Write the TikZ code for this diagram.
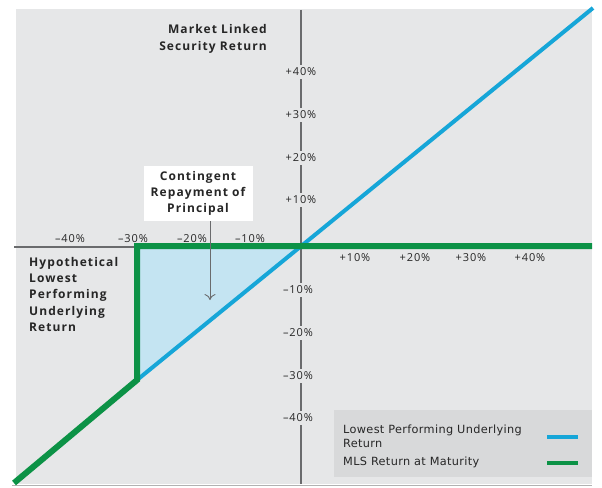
\documentclass[tikz,border=0pt]{standalone}
\usepackage{fontspec}
\setmainfont{Open Sans}
\newfontfamily\ttlfont{Open Sans}[LetterSpace=9]
\newfontfamily\tickfont{Open Sans}[LetterSpace=8]
\newfontfamily\legfont{DejaVu Sans}[LetterSpace=3]
\usetikzlibrary{arrows.meta}
\definecolor{bgc}{HTML}{E6E7E8}
\definecolor{axisc}{HTML}{6A6B6D}
\definecolor{bluec}{RGB}{22,166,216}
\definecolor{greenc}{RGB}{12,146,70}
\definecolor{shadec}{HTML}{C4E4F2}
\definecolor{legc}{HTML}{D8D9DA}
\definecolor{txtc}{HTML}{262626}
\begin{document}
\begin{tikzpicture}[x=1pt,y=-1pt,
  ticklbl/.style={font=\tickfont\fontsize{11}{13}\selectfont, text=txtc, inner sep=1pt},
  vtick/.style={ticklbl, fill=bgc, inner xsep=1pt, inner ysep=3pt},
  ttl/.style={font=\ttlfont\bfseries\fontsize{12}{16.3}\selectfont, text=txtc, inner sep=0pt},
  legtxt/.style={font=\legfont\fontsize{11.3}{14}\selectfont, text=txtc, inner sep=0pt, anchor=west, align=left},
  axisline/.style={axisc, line width=2pt},
  blueline/.style={bluec, line width=4pt},
  greenline/.style={greenc, line width=6pt},
]
\useasboundingbox (0,0) rectangle (602,487);
\fill[bgc] (16,9) rectangle (592,484);
\draw[black!30, line width=1pt] (12,485.5) -- (592,485.5);
% axes
\coordinate (vtop) at (301,10);
\coordinate (vbot) at (301,484);
\coordinate (hl) at (14,247);
\coordinate (hr) at (592,247);
\draw[axisline] (vtop) -- (vbot);
\draw[axisline] (hl) -- (hr);
% shaded region
\coordinate (o) at (301,246);
\coordinate (c1) at (137,246);
\coordinate (c2) at (137,380);
\coordinate (bend) at (593,8);
\coordinate (gstart) at (14,483);
\coordinate (gend) at (592,246);
\fill[shadec] (c1) -- (o) -- (c2) -- cycle;
\draw[blueline] (c2) -- (bend);
\draw[greenline, line join=miter] (gstart) -- (c2) -- (c1) -- (gend);
% vertical tick labels
\node[vtick] (p40) at (301,72) {+40\%};
\node[vtick] (p30) at (301,115) {+30\%};
\node[vtick] (p20) at (301,158) {+20\%};
\node[vtick] (p10) at (301,200) {+10\%};
\node[vtick] (m10) at (298,290) {\textendash10\%};
\node[vtick] (m20) at (298,333) {\textendash20\%};
\node[vtick] (m30) at (298,376) {\textendash30\%};
\node[vtick] (m40) at (298,418) {\textendash40\%};
% horizontal tick labels
\node[ticklbl] (hm40) at (70,239) {\textendash40\%};
\node[ticklbl] (hm30) at (133,239) {\textendash30\%};
\node[ticklbl] (hm20) at (192,239) {\textendash20\%};
\node[ticklbl] (hm10) at (250,239) {\textendash10\%};
\node[ticklbl] (hp10) at (355,258) {+10\%};
\node[ticklbl] (hp20) at (415,258) {+20\%};
\node[ticklbl] (hp30) at (471,258) {+30\%};
\node[ticklbl] (hp40) at (530,258) {+40\%};
% titles
\node[ttl, anchor=east, align=right] (ytitle) at (267,39) {Market Linked\\Security Return};
\node[ttl, anchor=north west, align=left] (xtitle) at (29,257) {Hypothetical\\Lowest\\Performing\\Underlying\\Return};
% contingent box
\node[fill=white, minimum width=109pt, minimum height=55pt, inner sep=0pt] (cbox) at (198,193.5) {};
\node[ttl, align=center] (ctext) at (cbox) {Contingent\\Repayment of\\Principal};
\coordinate (atip) at (210,300);
\draw[axisc, line width=0.9pt, -{To[length=6pt,width=11pt]}] (cbox.south -| atip) -- (atip);
% legend
\fill[legc] (334,410) rectangle (592,477);
\node[legtxt] (leg1) at (343,436) {Lowest Performing Underlying\\Return};
\node[legtxt] (leg2) at (343,462) {MLS Return at Maturity};
\coordinate (lb1) at (547,437);
\coordinate (lb2) at (578,437);
\coordinate (lg1) at (547,463);
\coordinate (lg2) at (578,463);
\draw[bluec, line width=4pt] (lb1) -- (lb2);
\draw[greenc, line width=4pt] (lg1) -- (lg2);
\end{tikzpicture}
\end{document}
